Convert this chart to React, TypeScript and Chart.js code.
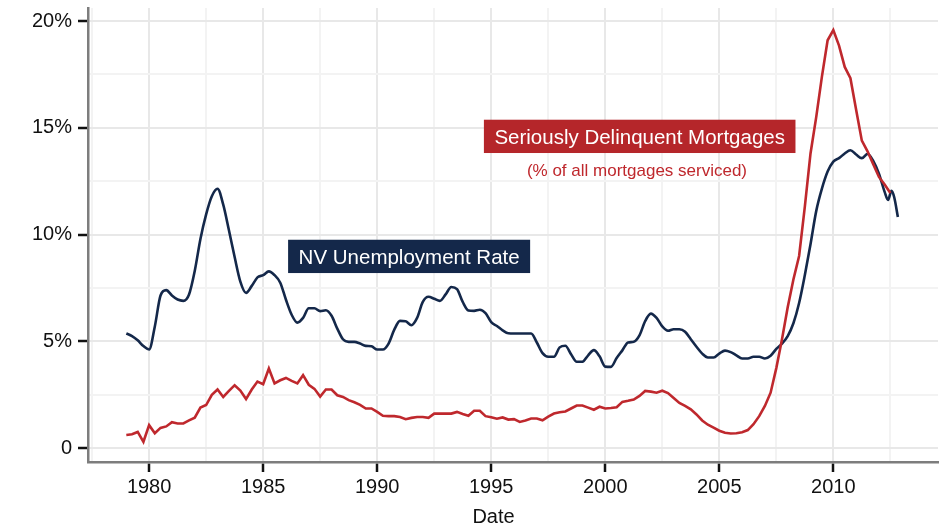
import React, { useEffect, useRef } from 'react';
import { Chart, registerables } from 'chart.js';

Chart.register(...registerables);

const FONT = "'Liberation Sans', Arial, Helvetica, sans-serif";

// Series start and sampling (quarterly)
const seriesStart = 1979;
const quarterStep = 0.25;

// NV unemployment rate (%), quarterly from 1979 Q1 to 2012.25
const navyValues = [
  5.37, 5.25, 5.05, 4.78,
  4.62, 5.7, 7.15, 7.4,
  7.15, 6.96, 6.9, 7.2,
  8.3, 9.8, 10.95, 11.8,
  12.15, 11.4, 10.2, 8.95,
  7.8, 7.27, 7.6, 8.0,
  8.1, 8.28, 8.1, 7.75,
  6.95, 6.25, 5.88, 6.1,
  6.55, 6.55, 6.42, 6.46,
  6.2, 5.6, 5.1, 4.98,
  4.98, 4.9, 4.79, 4.77,
  4.62, 4.62, 4.9, 5.55,
  5.96, 5.94, 5.76, 6.1,
  6.85, 7.09, 7.0, 6.9,
  7.2, 7.55, 7.45, 6.85,
  6.45, 6.43, 6.48, 6.32,
  5.9, 5.72, 5.52, 5.38,
  5.37, 5.37, 5.37, 5.37,
  4.95, 4.45, 4.28, 4.28,
  4.72, 4.8, 4.4, 4.05,
  4.05, 4.35, 4.59, 4.3,
  3.82, 3.81, 4.22, 4.58,
  4.95, 4.98, 5.28, 5.95,
  6.3, 6.1, 5.7, 5.5,
  5.57, 5.57, 5.45, 5.1,
  4.75, 4.43, 4.25, 4.25,
  4.43, 4.57, 4.5, 4.35,
  4.2, 4.2, 4.28, 4.28,
  4.2, 4.33, 4.65, 4.9,
  5.25, 5.85, 6.8, 8.1,
  9.55, 11.1, 12.15, 12.95,
  13.42, 13.58, 13.8, 13.95,
  13.75, 13.58, 13.78, 13.45,
  12.85, 12.0,
];
// final monthly readings of 2012
const navyTailDates = [2012.4, 2012.55, 2012.67, 2012.83];
const navyTailValues = [11.62, 12.05, 11.75, 10.83];

// Seriously delinquent mortgages (% of all mortgages serviced), quarterly from 1979 Q1 to 2012.5
const redValues = [
  0.62, 0.65, 0.76, 0.3,
  1.08, 0.7, 0.95, 1.02,
  1.22, 1.16, 1.16, 1.3,
  1.43, 1.9, 2.02, 2.5,
  2.75, 2.4, 2.68, 2.95,
  2.7, 2.3, 2.75, 3.12,
  3.0, 3.73, 3.03, 3.18,
  3.29, 3.15, 3.03, 3.42,
  2.97, 2.78, 2.42, 2.75,
  2.75, 2.48, 2.4, 2.25,
  2.15, 2.03, 1.86, 1.86,
  1.7, 1.52, 1.5, 1.5,
  1.46, 1.36, 1.42, 1.46,
  1.46, 1.42, 1.62, 1.62,
  1.62, 1.62, 1.7, 1.6,
  1.52, 1.75, 1.75, 1.5,
  1.45, 1.38, 1.44, 1.34,
  1.36, 1.23, 1.3, 1.39,
  1.39, 1.31, 1.48, 1.62,
  1.68, 1.72, 1.86, 2.0,
  2.0, 1.9, 1.8, 1.94,
  1.86, 1.88, 1.92, 2.17,
  2.22, 2.28, 2.45, 2.68,
  2.65, 2.6, 2.69, 2.58,
  2.35, 2.12, 1.98, 1.82,
  1.58, 1.3, 1.1, 0.96,
  0.82, 0.72, 0.69, 0.7,
  0.75, 0.85, 1.12, 1.5,
  1.98, 2.6, 3.75, 5.1,
  6.6, 7.9, 9.0, 11.3,
  13.8, 15.5, 17.4, 19.1,
  19.58, 18.85, 17.85, 17.32,
  15.85, 14.4, 13.9, 13.3,
  12.7, 12.35, 11.95,
];

// Axis ticks
const xTickValues = [1980, 1985, 1990, 1995, 2000, 2005, 2010];
const xTickLabels = ['1980', '1985', '1990', '1995', '2000', '2005', '2010'];
const xMinorValues = [1977.5, 1982.5, 1987.5, 1992.5, 1997.5, 2002.5, 2007.5, 2012.5];
const yTickValues = [0, 5, 10, 15, 20];
const yTickLabels = ['0', '5%', '10%', '15%', '20%'];
const yMinorValues = [2.5, 7.5, 12.5, 17.5];

const xTitle = 'Date';
const navyLabel = 'NV Unemployment Rate';
const redLabel = 'Seriously Delinquent Mortgages';
const redSubLabel = '(% of all mortgages serviced)';

// Colours
const NAVY = '#14284a';
const RED = '#bf282d';
const RED_BOX = '#b5262a';
const GRID_MAJOR = '#e8e8e8';
const GRID_MINOR = '#f3f3f3';

const quarterDates = (n: number) => Array.from({ length: n }, (_, i) => seriesStart + i * quarterStep);

const navyDates = quarterDates(navyValues.length).concat(navyTailDates);
const navyAll = navyValues.concat(navyTailValues);
const redDates = quarterDates(redValues.length);

const labelPlugin = {
  id: 'nvLabels',
  afterDatasetsDraw(chart: any) {
    const { ctx, scales } = chart;
    const x = scales.x;
    const y = scales.y;
    const box = (text: string, cx: number, cy: number, fill: string) => {
      ctx.save();
      ctx.font = `20.5px ${FONT}`;
      const w = ctx.measureText(text).width;
      const padX = 10.5;
      const h = 33.3;
      ctx.fillStyle = fill;
      ctx.fillRect(cx - w / 2 - padX, cy - h / 2, w + 2 * padX, h);
      ctx.fillStyle = '#ffffff';
      ctx.textAlign = 'center';
      ctx.textBaseline = 'alphabetic';
      ctx.fillText(text, cx, cy + 8);
      ctx.restore();
    };
    box(navyLabel, x.getPixelForValue(1991.4), y.getPixelForValue(8.98), NAVY);
    box(redLabel, x.getPixelForValue(2001.51), y.getPixelForValue(14.6), RED_BOX);
    ctx.save();
    ctx.font = `17px ${FONT}`;
    ctx.fillStyle = RED;
    ctx.textAlign = 'center';
    ctx.textBaseline = 'alphabetic';
    ctx.fillText(redSubLabel, x.getPixelForValue(2001.39), y.getPixelForValue(12.76));
    ctx.restore();
  },
  afterDraw(chart: any) {
    const { ctx, scales } = chart;
    ctx.save();
    ctx.font = `20px ${FONT}`;
    ctx.fillStyle = '#111111';
    ctx.textAlign = 'center';
    ctx.textBaseline = 'alphabetic';
    ctx.fillText(xTitle, scales.x.getPixelForValue(1995.1), chart.height - 6.5);
    ctx.restore();
  },
};

export default function App() {
  const ref = useRef<HTMLCanvasElement | null>(null);

  useEffect(() => {
    document.body.style.margin = '0';
    const canvas = ref.current;
    if (!canvas) return;
    const isMajorX = (v: number) => xTickValues.includes(v);
    const isMajorY = (v: number) => yTickValues.includes(v);
    const chart = new Chart(canvas, {
      type: 'line',
      data: {
        datasets: [
          {
            label: redLabel,
            data: redDates.map((d, i) => ({ x: d, y: redValues[i] })),
            borderColor: RED,
            borderWidth: 2.6,
            pointRadius: 0,
            tension: 0,
            fill: false,
          },
          {
            label: navyLabel,
            data: navyDates.map((d, i) => ({ x: d, y: navyAll[i] })),
            borderColor: NAVY,
            borderWidth: 2.6,
            pointRadius: 0,
            cubicInterpolationMode: 'monotone',
            fill: false,
          },
        ],
      },
      options: {
        animation: false,
        responsive: false,
        devicePixelRatio: 1,
        layout: { padding: { top: 8, right: 5, left: 0, bottom: 0 } },
        plugins: { legend: { display: false }, tooltip: { enabled: false } },
        scales: {
          x: {
            type: 'linear',
            min: 1977.32,
            max: 2014.59,
            afterBuildTicks: (scale: any) => {
              scale.ticks = [...xMinorValues, ...xTickValues].sort((a, b) => a - b).map((v) => ({ value: v }));
            },
            afterFit: (scale: any) => {
              scale.height = 67;
              scale.paddingLeft = 0;
              scale.paddingRight = 0;
            },
            ticks: {
              autoSkip: false,
              maxRotation: 0,
              padding: 3,
              color: '#111111',
              font: { family: FONT, size: 20 },
              callback: (v: any) => {
                const i = xTickValues.indexOf(Number(v));
                return i >= 0 ? xTickLabels[i] : '';
              },
            },
            grid: {
              color: (c: any) => (c.tick && isMajorX(c.tick.value) ? GRID_MAJOR : GRID_MINOR),
              lineWidth: 2,
              tickLength: 10,
              tickWidth: 2.5,
              tickColor: (c: any) => (c.tick && isMajorX(c.tick.value) ? '#111111' : 'rgba(0,0,0,0)'),
            },
            border: { display: true, color: '#7d7d7d', width: 2.5 },
          },
          y: {
            type: 'linear',
            min: -0.646,
            max: 20.61,
            afterBuildTicks: (scale: any) => {
              scale.ticks = [...yMinorValues, ...yTickValues].sort((a, b) => a - b).map((v) => ({ value: v }));
            },
            afterFit: (scale: any) => {
              scale.width = 88;
              scale.paddingTop = 0;
              scale.paddingBottom = 0;
            },
            ticks: {
              autoSkip: false,
              padding: 6,
              color: '#111111',
              font: { family: FONT, size: 20 },
              callback: (v: any) => {
                const i = yTickValues.indexOf(Number(v));
                return i >= 0 ? yTickLabels[i] : '';
              },
            },
            grid: {
              color: (c: any) => (c.tick && isMajorY(c.tick.value) ? GRID_MAJOR : GRID_MINOR),
              lineWidth: 2,
              tickLength: 10,
              tickWidth: 2.5,
              tickColor: (c: any) => (c.tick && isMajorY(c.tick.value) ? '#111111' : 'rgba(0,0,0,0)'),
            },
            border: { display: true, color: '#7d7d7d', width: 2.5 },
          },
        },
      },
      plugins: [labelPlugin],
    } as any);
    return () => chart.destroy();
  }, []);

  return (
    <div style={{ width: 943, height: 529, position: 'relative', background: '#ffffff' }}>
      <canvas ref={ref} width={943} height={529} style={{ display: 'block' }} />
    </div>
  );
}
